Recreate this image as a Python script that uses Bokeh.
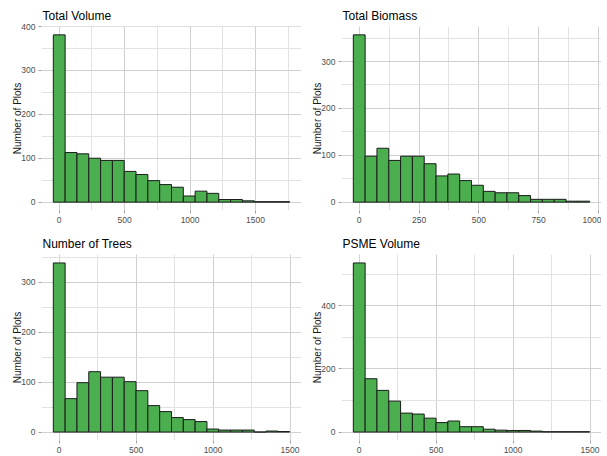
from bokeh.plotting import figure
from bokeh.layouts import column, row
from bokeh.models import ColumnDataSource, Range1d, SingleIntervalTicker, Spacer
from bokeh.embed import file_html
from bokeh.resources import INLINE

# ---- data ----
titles = ["Total Volume", "Total Biomass", "Number of Trees", "PSME Volume"]

vol_bin_width = 90.3
vol_counts = [381, 113, 110, 100, 95, 95, 70, 63, 49, 40, 34, 14, 25, 20, 6, 6, 3, 1, 1, 1]

bio_bin_width = 49.4
bio_counts = [357, 98, 115, 89, 98, 98, 82, 56, 60, 46, 36, 23, 20, 20, 14, 6, 6, 6, 2, 2]

trees_bin_width = 76.8
trees_counts = [339, 67, 99, 121, 110, 110, 101, 83, 53, 41, 29, 25, 21, 6, 4, 4, 4, 0, 2, 1]

psme_bin_width = 76.8
psme_counts = [536, 169, 132, 98, 60, 57, 44, 30, 35, 17, 17, 9, 6, 5, 5, 3, 1, 1, 1, 1]

x_tick_steps = [500, 250, 500, 500]
y_tick_steps = [100, 100, 100, 200]
y_label = "Number of Plots"

FILL = "#4BAE4F"
EDGE = "#1c1c1c"
FONT = "Liberation Sans"


def make_hist(title, counts, bw, xstep, ystep, fw, fh, left, right, top, bottom):
    n = len(counts)
    centers = [i * bw for i in range(n)]
    lefts = [c - bw / 2 for c in centers]
    rights = [c + bw / 2 for c in centers]
    lo, hi = lefts[0], rights[-1]
    span = hi - lo
    ymax = max(counts)
    src = ColumnDataSource(dict(left=lefts, right=rights, top=counts, bottom=[0] * n))
    p = figure(frame_width=fw, frame_height=fh, output_backend="svg", toolbar_location=None,
               x_range=Range1d(lo - 0.05 * span, hi + 0.05 * span),
               y_range=Range1d(-0.05 * ymax, 1.05 * ymax),
               min_border_left=left, min_border_right=right,
               min_border_top=top, min_border_bottom=bottom,
               title=title)
    p.quad(left="left", right="right", top="top", bottom="bottom", source=src,
           fill_color=FILL, line_color=EDGE, line_width=1)
    p.outline_line_color = None
    p.background_fill_color = "white"
    p.border_fill_color = "white"
    p.title.text_font = FONT
    p.title.text_font_size = "12px"
    p.title.text_font_style = "normal"
    p.title.text_color = "#000000"
    p.title.standoff = 7
    p.title.offset = 1

    p.xaxis.ticker = SingleIntervalTicker(interval=xstep, num_minor_ticks=2)
    p.yaxis.ticker = SingleIntervalTicker(interval=ystep, num_minor_ticks=2)
    for ax in (p.xaxis[0], p.yaxis[0]):
        ax.axis_line_color = None
        ax.major_tick_line_color = "#a0a0a0"
        ax.major_tick_out = 3
        ax.major_tick_in = 0
        ax.minor_tick_line_color = None
        ax.major_label_text_font = FONT
        ax.major_label_text_font_size = "8.5px"
        ax.major_label_text_color = "#4d4d4d"
        ax.major_label_standoff = 2
    p.yaxis.axis_label = y_label
    p.yaxis.axis_label_text_font = FONT
    p.yaxis.axis_label_text_font_size = "10px"
    p.yaxis.axis_label_text_font_style = "normal"
    p.yaxis.axis_label_text_color = "#1a1a1a"
    p.yaxis.axis_label_standoff = -5

    for g in (p.xgrid[0], p.ygrid[0]):
        g.grid_line_color = "#d0d0d0"
        g.grid_line_width = 1
        g.minor_grid_line_color = "#e2e2e2"
        g.minor_grid_line_width = 1
    return p


p1 = make_hist(titles[0], vol_counts, vol_bin_width, x_tick_steps[0], y_tick_steps[0],
               260, 184, 41, 0, 0, 18)
p2 = make_hist(titles[1], bio_counts, bio_bin_width, x_tick_steps[1], y_tick_steps[1],
               260, 184, 40, 0, 0, 18)
p3 = make_hist(titles[2], trees_counts, trees_bin_width, x_tick_steps[2], y_tick_steps[2],
               260, 186, 41, 0, 0, 0)
p4 = make_hist(titles[3], psme_counts, psme_bin_width, x_tick_steps[3], y_tick_steps[3],
               260, 186, 40, 0, 0, 0)

layout = column(Spacer(height=3), row(p1, p2), Spacer(height=3), row(p3, p4))
open("out.html", "w").write(file_html(layout, INLINE))
